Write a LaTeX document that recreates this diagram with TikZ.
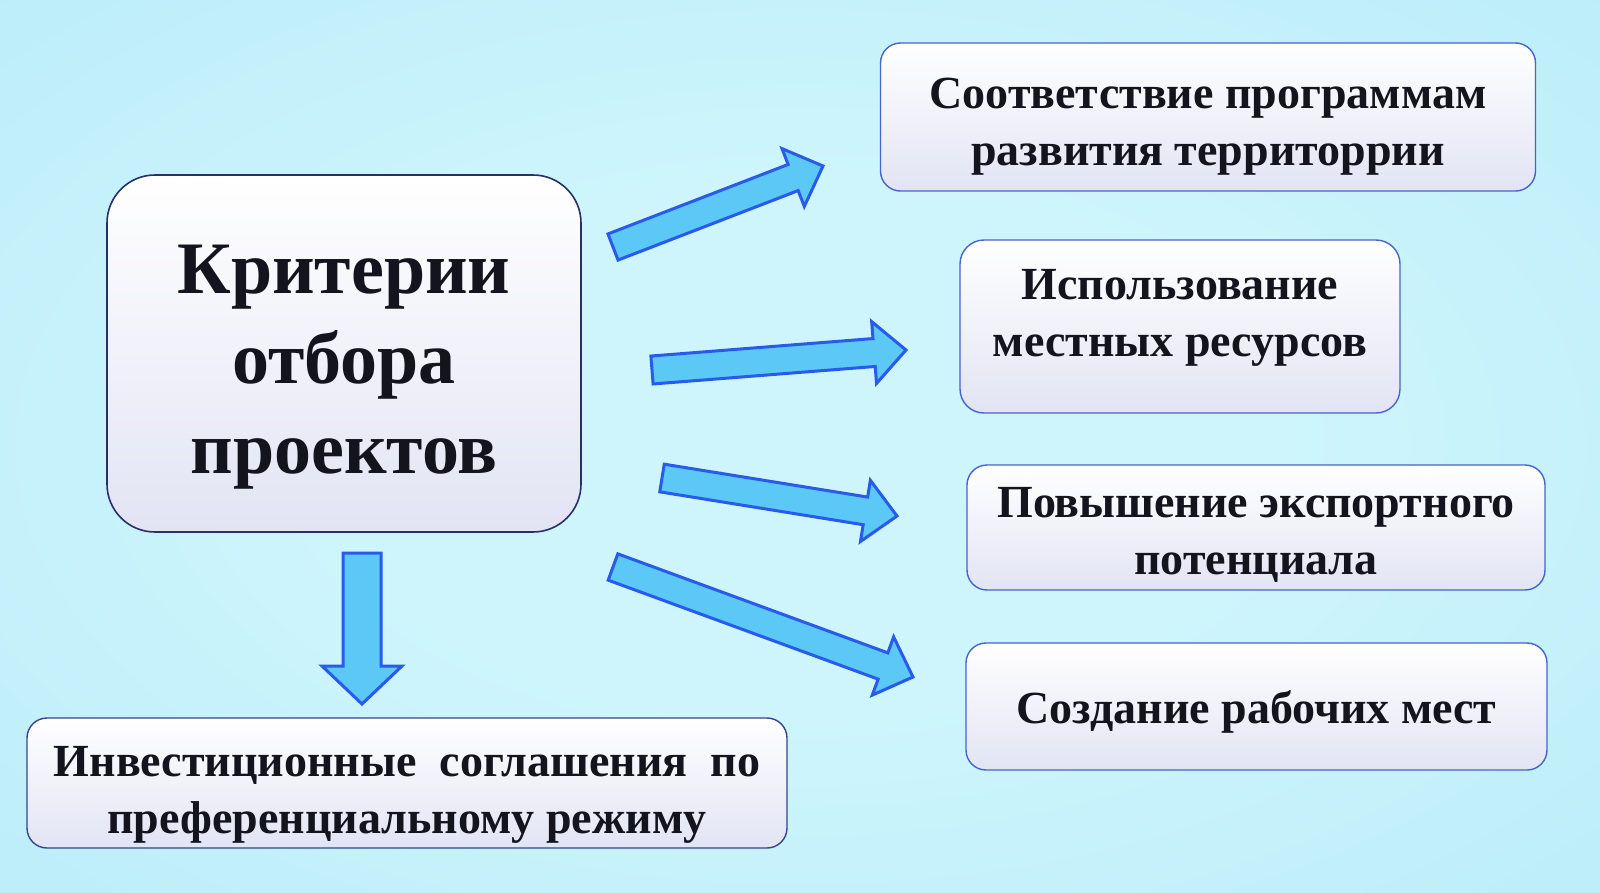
\documentclass[tikz,border=0pt]{standalone}
\usepackage{fontspec}
\setmainfont{Liberation Serif}
\usetikzlibrary{calc}

\definecolor{bgcentre}{RGB}{206,245,252}
\definecolor{bgmid}{RGB}{180,234,248}
\definecolor{bgedge}{RGB}{146,210,238}
\definecolor{boxlow}{RGB}{226,228,244}
\definecolor{boxedge}{RGB}{70,100,205}
\definecolor{critedge}{RGB}{40,48,100}
\definecolor{arrowfill}{RGB}{92,200,246}
\definecolor{arrowedge}{RGB}{40,90,235}
\definecolor{ink}{RGB}{20,20,30}

\pgfdeclareradialshading{screen}{\pgfpoint{0bp}{0bp}}{color(0bp)=(bgcentre); color(15bp)=(bgcentre); color(45bp)=(bgmid); color(72bp)=(bgedge)}

\begin{document}
\begin{tikzpicture}[x=1pt,y=-1pt,
  crit box/.style={rectangle,rounded corners=48pt,draw=critedge,line width=1.6pt,
    top color=white,bottom color=boxlow,text=ink,align=center,
    minimum width=474pt,minimum height=357pt,
    font=\fontsize{74}{90}\selectfont\bfseries},
  item box/.style={rectangle,rounded corners=20pt,draw=boxedge,line width=1.4pt,
    top color=white,bottom color=boxlow,text=ink,align=center,
    font=\fontsize{46}{57}\selectfont\bfseries},
  fat arrow/.style n args={3}{draw=arrowedge,fill=arrowfill,line width=3pt,
    to path={($(\tikztostart)!#1pt!90:(\tikztotarget)$)
      -- ($($(\tikztotarget)!#3pt!(\tikztostart)$)!#1pt!90:(\tikztotarget)$)
      -- ($($(\tikztotarget)!#3pt!(\tikztostart)$)!#2pt!90:(\tikztotarget)$)
      -- (\tikztotarget)
      -- ($($(\tikztotarget)!#3pt!(\tikztostart)$)!#2pt!-90:(\tikztotarget)$)
      -- ($($(\tikztotarget)!#3pt!(\tikztostart)$)!#1pt!-90:(\tikztotarget)$)
      -- ($(\tikztostart)!#1pt!-90:(\tikztotarget)$) -- cycle}}]

  \useasboundingbox (0,0) rectangle (1600,892);
  \shade[shading=screen] (0,0) rectangle (1600,892);

  % the boxes
  \node[crit box] (crit) at (344,353.5) {\rule{0pt}{76pt}Критерии\\отбора\\проектов};
  \node[item box,minimum width=655pt,minimum height=148pt] (terr) at (1208,117)
    {\rule{0pt}{50pt}Соответствие программам\\развития территоррии};
  \node[item box,minimum width=440pt,minimum height=173pt,rounded corners=24pt] (res) at (1180,326.5)
    {\rule{0pt}{36pt}Использование\\местных ресурсов\rule[-34pt]{0pt}{34pt}};
  \node[item box,minimum width=578pt,minimum height=125pt] (exp) at (1256,527.5)
    {\rule{0pt}{44pt}Повышение экспортного\\потенциала};
  \node[item box,minimum width=581pt,minimum height=127pt] (jobs) at (1256.5,706.5)
    {\rule{0pt}{44pt}Создание рабочих мест};
  \node[item box,minimum width=760pt,minimum height=130pt,draw=critedge!60!boxedge] (inv) at (407,783)
    {\rule{0pt}{54pt}Инвестиционные\ \ соглашения\ \ по\\преференциальному режиму};

  % the arrows
  \coordinate (a1) at (613,247);  \coordinate (a1 tip) at (823,166);
  \coordinate (a2) at (652,370);  \coordinate (a2 tip) at (906,350);
  \coordinate (a3) at (662,478);  \coordinate (a3 tip) at (897,516);
  \coordinate (a4) at (613,567);  \coordinate (a4 tip) at (913,677);
  \coordinate (a5) at (362,553);  \coordinate (a5 tip) at (362,704);

  \draw[fat arrow={14}{31}{32}] (a1) to (a1 tip);
  \draw[fat arrow={14}{31}{32}] (a2) to (a2 tip);
  \draw[fat arrow={14}{31}{32}] (a3) to (a3 tip);
  \draw[fat arrow={14}{31}{32}] (a4) to (a4 tip);
  \draw[fat arrow={19}{40}{38}] (a5) to (a5 tip);
\end{tikzpicture}
\end{document}
